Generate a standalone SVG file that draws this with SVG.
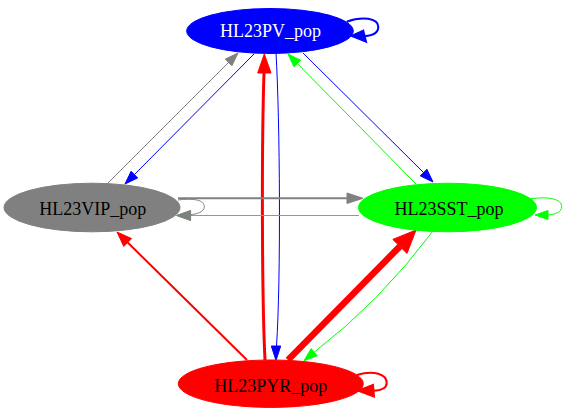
<svg xmlns="http://www.w3.org/2000/svg" width="567" height="414" viewBox="0 0 567 414">
<style>
.e{fill:none}
.blue{stroke:#0000ff}
.gray{stroke:#808080}
.green{stroke:#00ff00}
.red{stroke:#ff0000}
.ab{fill:#0000ff;stroke:#0000ff}
.ag{fill:#808080;stroke:#808080}
.agr{fill:#00ff00;stroke:#00ff00}
.ar{fill:#ff0000;stroke:#ff0000}
.w1{stroke-width:1}
.w2{stroke-width:2}
.w3{stroke-width:3}
.w7{stroke-width:6.5}
.lbl{font-family:"Liberation Serif","Times New Roman",serif;font-size:18px;text-anchor:middle}
</style>
<rect width="567" height="414" fill="#ffffff"/>
<g id="connectors">
  <!-- PV self loop -->
  <path class="e blue w2" d="M346.7,21.7 C362,16 378,18 378.3,26.7 C378.5,33 372,35.5 364.7,36.2"/>
  <polygon class="ab w2" points="351.7,36 363.3,30.7 366,41.7"/>
  <!-- VIP -> PV -->
  <path class="e gray w1" d="M108,183 L228.6,62.4"/>
  <polygon class="ag w1" points="238,53 231.9,65.7 225.3,59.1"/>
  <!-- PV -> VIP -->
  <path class="e blue w1" d="M254,54 L134.4,174.6"/>
  <polygon class="ab w1" points="125,184 137.7,177.9 131.1,171.3"/>
  <!-- PYR -> PV -->
  <path class="e red w3" d="M265,360 C262,300 261.5,150 264,73"/>
  <polygon class="ar w1" points="264.3,54 271,73 257.7,73"/>
  <!-- PV -> PYR -->
  <path class="e blue w1" d="M276,53 C280,120 281,280 276.5,346"/>
  <polygon class="ab w1" points="276,360.5 271.3,346 280.7,346"/>
  <!-- SST -> PV -->
  <path class="e green w1" d="M416,184 L297.3,63.5"/>
  <polygon class="agr w1" points="288,54 300.6,60.2 294,66.8"/>
  <!-- PV -> SST -->
  <path class="e blue w1" d="M303,53 L423.6,172.6"/>
  <polygon class="ab w1" points="433,182 420.3,175.9 426.9,169.3"/>
  <!-- VIP -> SST -->
  <path class="e gray w2" d="M178,198.3 L347,198.3"/>
  <polygon class="ag w1" points="363,198.3 347,193 347,203.5"/>
  <!-- SST -> VIP -->
  <path class="e green w1" d="M359,215.5 L190,215.5"/>
  <polygon class="agr w1" points="177,215.5 190.3,210.8 190.3,220.2"/>
  <!-- VIP self loop -->
  <path class="e gray w1" d="M178,200 C194,198 204.3,200 204.3,206.7 C204.3,212 197,214 190,214.8"/>
  <polygon class="ag w1" points="176.5,215.5 190.6,210.5 190.6,220.5"/>
  <!-- SST self loop -->
  <path class="e green w1" d="M530,199 C548,196 562,199 561.7,206.7 C561.5,212 556,214.5 547.5,215"/>
  <polygon class="agr w1" points="535,215 548,210.5 548,219.5"/>
  <!-- PYR -> VIP -->
  <path class="e red w2" d="M247,360 L127.7,242.5"/>
  <polygon class="ar w1" points="117,232 131.6,238.6 123.8,246.4"/>
  <!-- PYR -> SST -->
  <path class="e red w7" d="M288,360 L399.9,246.4"/>
  <polygon class="ar w1" points="416,230 407,253.4 392.8,239.4"/>
  <!-- SST -> PYR -->
  <path class="e green w1" d="M433,231 Q379.8,301.8 314.2,352.2"/>
  <polygon class="agr w1" points="304,360.7 317.2,355.8 311.2,348.6"/>
  <!-- PYR self loop -->
  <path class="e red w2" d="M356.7,375 C374,370 387,374 386.7,383.3 C386.5,389 381,390.5 373,390.7"/>
  <polygon class="ar w2" points="358.3,390.7 373,385 374,396.5"/>
</g>
<g id="HL23PV_pop">
  <ellipse cx="270" cy="31" rx="83.3" ry="22.5" fill="#0000ff" stroke="#0000ff"/>
  <text class="lbl" x="270.5" y="36.5" fill="#ffffff">HL23PV_pop</text>
</g>
<g id="HL23VIP_pop">
  <ellipse cx="92" cy="207.5" rx="88" ry="24.3" fill="#808080" stroke="#808080"/>
  <text class="lbl" x="92.7" y="215" fill="#000000">HL23VIP_pop</text>
</g>
<g id="HL23SST_pop">
  <ellipse cx="447.5" cy="207.5" rx="89" ry="24.3" fill="#00ff00" stroke="#00ff00"/>
  <text class="lbl" x="449" y="215" fill="#000000">HL23SST_pop</text>
</g>
<g id="HL23PYR_pop">
  <ellipse cx="270.8" cy="383.7" rx="92.5" ry="23.7" fill="#ff0000" stroke="#ff0000"/>
  <text class="lbl" x="270.8" y="392" fill="#000000">HL23PYR_pop</text>
</g>
</svg>
